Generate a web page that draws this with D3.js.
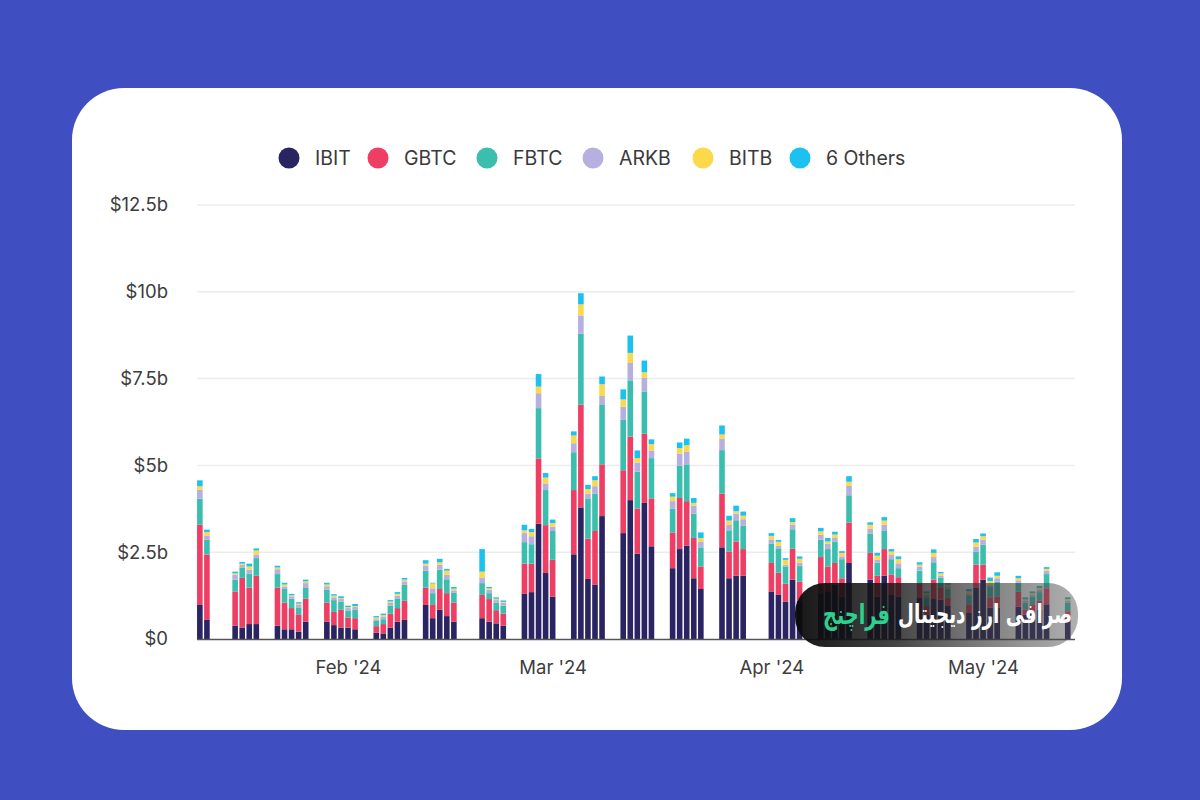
<!DOCTYPE html>
<html>
<head>
<meta charset="utf-8">
<script src="https://cdn.jsdelivr.net/npm/d3@7"></script>
<style>
  html, body { margin: 0; padding: 0; background: #3f4ec1; }
  svg { display: block; }
</style>
</head>
<body>
<svg id="chart" width="1200" height="800"></svg>
<script>
// ---- data (billions USD, daily trading volume) ----
const dates = ["2024-01-11","2024-01-12","2024-01-16","2024-01-17","2024-01-18","2024-01-19","2024-01-22","2024-01-23","2024-01-24","2024-01-25","2024-01-26","2024-01-29","2024-01-30","2024-01-31",
"2024-02-01","2024-02-02","2024-02-05","2024-02-06","2024-02-07","2024-02-08","2024-02-09","2024-02-12","2024-02-13","2024-02-14","2024-02-15","2024-02-16","2024-02-20","2024-02-21","2024-02-22","2024-02-23","2024-02-26","2024-02-27","2024-02-28","2024-02-29",
"2024-03-01","2024-03-04","2024-03-05","2024-03-06","2024-03-07","2024-03-08","2024-03-11","2024-03-12","2024-03-13","2024-03-14","2024-03-15","2024-03-18","2024-03-19","2024-03-20","2024-03-21","2024-03-22","2024-03-25","2024-03-26","2024-03-27","2024-03-28",
"2024-04-01","2024-04-02","2024-04-03","2024-04-04","2024-04-05","2024-04-08","2024-04-09","2024-04-10","2024-04-11","2024-04-12","2024-04-15","2024-04-16","2024-04-17","2024-04-18","2024-04-19","2024-04-22","2024-04-23","2024-04-24","2024-04-25","2024-04-26","2024-04-29","2024-04-30",
"2024-05-01","2024-05-02","2024-05-03","2024-05-06","2024-05-07","2024-05-08","2024-05-09","2024-05-10","2024-05-13"];

const ibit = [0.98,0.55,0.38,0.33,0.43,0.43,0.38,0.28,0.28,0.21,0.50,0.50,0.40,0.33,
0.33,0.28,0.18,0.16,0.33,0.50,0.55,0.98,0.60,0.84,0.66,0.50,0.60,0.50,0.45,0.38,1.30,1.35,3.32,1.90,
1.22,2.44,3.79,1.73,1.57,3.54,3.05,4.00,2.46,3.92,2.67,2.04,2.59,2.69,1.75,1.44,2.64,1.75,1.82,1.82,
1.37,1.27,1.08,1.71,1.10,1.30,1.37,1.56,1.22,2.19,1.71,1.22,1.82,1.27,1.22,1.18,0.70,1.15,1.13,0.95,0.75,1.47,
1.71,0.90,0.90,0.93,0.70,0.80,0.85,1.00,0.60];

const gbtc = [2.31,1.88,0.99,1.43,1.05,1.39,1.10,0.77,0.61,0.50,0.66,0.55,0.38,0.51,
0.29,0.32,0.19,0.27,0.40,0.39,0.55,0.50,0.40,0.60,0.66,0.55,0.67,0.65,0.38,0.35,0.87,0.82,1.88,1.38,
1.06,1.85,2.96,1.16,1.54,1.49,1.81,1.83,1.30,1.99,1.38,1.03,1.47,1.28,1.16,0.65,1.55,0.77,0.99,0.77,
0.82,0.64,0.51,0.89,0.55,1.06,0.72,0.63,0.53,1.16,0.77,0.60,0.77,0.58,0.56,0.43,0.25,0.56,0.34,0.25,0.25,0.67,
0.43,0.30,0.32,0.43,0.15,0.20,0.25,0.46,0.20];

const fbtc = [0.75,0.43,0.34,0.29,0.40,0.51,0.39,0.39,0.27,0.20,0.31,0.37,0.34,0.24,
0.20,0.24,0.15,0.14,0.23,0.28,0.46,0.49,0.32,0.56,0.40,0.29,0.34,0.17,0.22,0.23,0.62,0.56,1.45,1.01,
0.83,1.09,2.04,1.16,1.08,1.71,1.45,1.62,1.06,1.22,1.16,0.68,0.93,1.06,0.70,0.55,1.25,0.61,0.61,0.67,
0.56,0.70,0.50,0.56,0.45,0.50,0.50,0.62,0.55,0.79,0.55,0.38,0.54,0.45,0.26,0.36,0.25,0.50,0.29,0.25,0.24,0.38,
0.58,0.30,0.43,0.26,0.20,0.22,0.25,0.41,0.25];

const arkb = [0.26,0.12,0.14,0.08,0.12,0.10,0.14,0.07,0.07,0.07,0.14,0.10,0.08,0.07,
0.07,0.08,0.05,0.08,0.08,0.08,0.10,0.14,0.14,0.14,0.13,0.06,0.16,0.10,0.07,0.08,0.26,0.23,0.43,0.19,
0.13,0.26,0.53,0.14,0.21,0.26,0.38,0.50,0.26,0.39,0.22,0.22,0.35,0.37,0.23,0.17,0.33,0.16,0.19,0.19,
0.12,0.07,0.05,0.14,0.10,0.14,0.15,0.10,0.08,0.27,0.14,0.08,0.16,0.12,0.14,0.12,0.07,0.15,0.07,0.06,0.07,0.14,
0.14,0.07,0.10,0.07,0.05,0.05,0.07,0.10,0.05];

const bitb = [0.10,0.10,0.04,0.04,0.09,0.12,0.05,0.06,0.03,0.04,0.05,0.05,0.05,0.03,
0.03,0.03,0.05,0.04,0.04,0.05,0.05,0.06,0.14,0.07,0.12,0.05,0.17,0.04,0.04,0.03,0.08,0.12,0.19,0.17,
0.10,0.22,0.32,0.13,0.17,0.34,0.21,0.29,0.13,0.16,0.18,0.13,0.16,0.18,0.08,0.10,0.12,0.12,0.07,0.10,
0.10,0.12,0.14,0.07,0.11,0.10,0.07,0.10,0.10,0.12,0.12,0.12,0.12,0.10,0.12,0.05,0.05,0.12,0.06,0.05,0.06,0.12,
0.10,0.10,0.07,0.06,0.04,0.05,0.05,0.05,0.05];

const others = [0.17,0.07,0.05,0.05,0.08,0.06,0.05,0.05,0.04,0.04,0.05,0.05,0.04,0.05,
0.04,0.06,0.04,0.04,0.04,0.05,0.05,0.10,0.02,0.10,0.05,0.05,0.65,0.04,0.04,0.04,0.16,0.09,0.36,0.13,
0.10,0.12,0.32,0.12,0.12,0.22,0.29,0.50,0.22,0.34,0.14,0.10,0.16,0.19,0.14,0.16,0.26,0.14,0.16,0.12,
0.08,0.05,0.05,0.11,0.07,0.10,0.10,0.08,0.05,0.16,0.07,0.08,0.10,0.07,0.08,0.07,0.05,0.10,0.04,0.05,0.07,0.10,
0.08,0.10,0.10,0.07,0.06,0.05,0.06,0.05,0.05];

const seriesNames = ["IBIT","GBTC","FBTC","ARKB","BITB","6 Others"];
const seriesColors = ["#2a2462","#ee3e63","#3bbeae","#b6b0e0","#fbd94a","#1cc2ef"];
const yTicks = [0, 2.5, 5, 7.5, 10, 12.5];
const xTickDates = ["2024-02-01","2024-03-01","2024-04-01","2024-05-01"];
const xTickLabels = ["Feb '24","Mar '24","Apr '24","May '24"];
const watermarkWhite = "صرافی ارز دیجیتال";
const watermarkGreen = "فراچنج";

// ---- build table ----
const seriesArrays = [ibit, gbtc, fbtc, arkb, bitb, others];
const parse = d3.utcParse("%Y-%m-%d");
const table = dates.map((d, i) => {
  const row = { date: parse(d) };
  seriesNames.forEach((s, j) => row[s] = seriesArrays[j][i]);
  return row;
});

const svg = d3.select("#chart");
const FONT = "Inter, 'Open Sans', sans-serif";

// card
svg.append("rect").attr("x", 72).attr("y", 88).attr("width", 1050).attr("height", 642)
  .attr("rx", 52).attr("fill", "#ffffff");

// scales
const x = d3.scaleUtc()
  .domain([parse("2024-01-10"), parse("2024-05-14")])
  .range([192.8, 1074.8]);
const y = d3.scaleLinear().domain([0, 12.5]).range([639, 205]);

const plotLeft = 197, plotRight = 1075;

// gridlines
svg.append("g").selectAll("line").data(yTicks.filter(t => t > 0)).join("line")
  .attr("x1", plotLeft).attr("x2", plotRight)
  .attr("y1", d => y(d)).attr("y2", d => y(d))
  .attr("stroke", "#ececec").attr("stroke-width", 1.5);

// y axis
const yAxis = d3.axisLeft(y).tickValues(yTicks).tickSize(0).tickPadding(0)
  .tickFormat(d => d === 0 ? "$0" : "$" + d + "b");
const gy = svg.append("g").attr("transform", "translate(168,0)").call(yAxis);
gy.select(".domain").remove();
gy.selectAll("text").attr("font-family", FONT).attr("font-size", 18.5).attr("fill", "#3d3d3d");

// stacked bars
const stack = d3.stack().keys(seriesNames);
const layers = stack(table);
const barW = 5.6;
svg.append("g").selectAll("g").data(layers).join("g")
  .attr("fill", (d, i) => seriesColors[i])
  .selectAll("rect").data(d => d).join("rect")
  .attr("x", d => x(d.data.date) - barW / 2)
  .attr("width", barW)
  .attr("y", d => y(d[1]))
  .attr("height", d => Math.max(0, y(d[0]) - y(d[1])));

// baseline
svg.append("line").attr("x1", plotLeft).attr("x2", plotRight)
  .attr("y1", y(0) + 0.5).attr("y2", y(0) + 0.5)
  .attr("stroke", "#555").attr("stroke-width", 1.6);

// x axis labels
const xAxis = d3.axisBottom(x).tickValues(xTickDates.map(parse)).tickSize(0).tickPadding(0)
  .tickFormat((d, i) => xTickLabels[i]);
const gx = svg.append("g").attr("transform", "translate(0,661)").call(xAxis);
gx.select(".domain").remove();
gx.selectAll("text").attr("font-family", FONT).attr("font-size", 18.5).attr("fill", "#3d3d3d");

// legend
const legendX = [289, 378, 487, 593, 703, 800];
const lg = svg.append("g");
seriesNames.forEach((s, i) => {
  lg.append("circle").attr("cx", legendX[i]).attr("cy", 158).attr("r", 10.5).attr("fill", seriesColors[i]);
  lg.append("text").attr("x", legendX[i] + 26).attr("y", 158).attr("dy", "0.35em")
    .attr("font-family", FONT).attr("font-size", 19.5).attr("fill", "#3a3a3a").text(s);
});

// watermark overlay
const defs = svg.append("defs");
const grad = defs.append("linearGradient").attr("id", "wm").attr("x1", "0").attr("x2", "1").attr("y1", "0").attr("y2", "0");
grad.append("stop").attr("offset", "0%").attr("stop-color", "#0a0a0a").attr("stop-opacity", 0.95);
grad.append("stop").attr("offset", "35%").attr("stop-color", "#151515").attr("stop-opacity", 0.8);
grad.append("stop").attr("offset", "100%").attr("stop-color", "#505050").attr("stop-opacity", 0.45);
svg.append("rect").attr("x", 795).attr("y", 583).attr("width", 283).attr("height", 64)
  .attr("rx", 30).attr("fill", "url(#wm)");

function fitText(str, rightX, targetW, color) {
  const g = svg.append("g").attr("transform", `translate(${rightX},614) scale(1,1.45)`);
  const t = g.append("text").attr("x", 0).attr("y", 0).attr("dy", "0.35em")
    .attr("text-anchor", "end")
    .attr("font-family", "'DejaVu Sans', sans-serif").attr("font-weight", "bold")
    .attr("font-size", 22).attr("fill", color).text(str);
  const w = t.node().getComputedTextLength();
  if (w > 0) t.attr("font-size", Math.min(26, 22 * targetW / w));
  return t;
}
fitText(watermarkWhite, 1072, 174, "#ffffff");
fitText(watermarkGreen, 890, 67, "#2fd08f");
</script>
</body>
</html>
